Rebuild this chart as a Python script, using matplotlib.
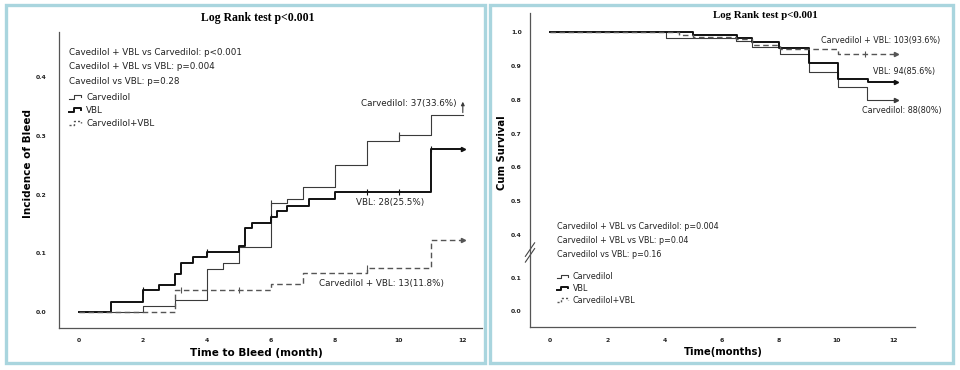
import numpy as np
import matplotlib
matplotlib.use("Agg")
import matplotlib.pyplot as plt
from matplotlib.lines import Line2D
from matplotlib.patches import Rectangle
from matplotlib.legend_handler import HandlerBase

# ---- left panel: incidence of bleed ----
bleed_carv_t = [0, 2, 3, 4, 4.5, 5, 6, 6.5, 7, 8, 9, 10, 11, 12]
bleed_carv_v = [0, 0.011, 0.020, 0.074, 0.084, 0.111, 0.186, 0.193, 0.213, 0.251, 0.291, 0.302, 0.335, 0.335]
bleed_vbl_t = [0, 1, 2, 2.5, 3, 3.2, 3.55, 4, 5, 5.2, 5.4, 6, 6.2, 6.5, 7.2, 8, 11, 12]
bleed_vbl_v = [0, 0.018, 0.038, 0.047, 0.065, 0.084, 0.094, 0.103, 0.113, 0.143, 0.152, 0.162, 0.172,
               0.181, 0.192, 0.204, 0.277, 0.277]
bleed_comb_t = [0, 3, 6, 7, 9, 11, 12]
bleed_comb_v = [0, 0.037, 0.048, 0.066, 0.076, 0.122, 0.122]
bleed_carv_cens = [6, 10]
bleed_vbl_cens = [2, 4, 6, 9, 10, 11]
bleed_comb_cens = [3.2, 5, 9]
bleed_pvals = ["Cavedilol + VBL vs Carvedilol: p<0.001",
               "Cavedilol + VBL vs VBL: p=0.004",
               "Cavedilol vs VBL: p=0.28"]

# ---- right panel: cumulative survival ----
surv_carv_t = [0, 4.05, 6.5, 7.05, 8.04, 9.07, 10.08, 11.07, 12.1]
surv_carv_v = [1, 0.982, 0.975, 0.957, 0.936, 0.883, 0.837, 0.800, 0.800]
surv_vbl_t = [0, 5.0, 6.55, 7.05, 8.0, 9.07, 10.08, 11.1, 12.1]
surv_vbl_v = [1, 0.991, 0.983, 0.971, 0.953, 0.910, 0.861, 0.852, 0.852]
surv_comb_t = [0, 4.5, 5.0, 6.5, 7.05, 8.04, 10.08, 12.1]
surv_comb_v = [1, 0.993, 0.987, 0.980, 0.962, 0.950, 0.936, 0.936]
surv_comb_cens = [11]
surv_pvals = ["Carvedilol + VBL vs Carvedilol: p=0.004",
              "Carvedilol + VBL vs VBL: p=0.04",
              "Carvedilol vs VBL: p=0.16"]

legend_labels = ["Carvedilol", "VBL", "Carvedilol+VBL"]
month_ticks = [0, 2, 4, 6, 8, 10, 12]
surv_ticks = [1.0, 0.9, 0.8, 0.7, 0.6, 0.5, 0.4, 0.1, 0.0]
axis_break = (0.1, 0.4)   # values skipped on the survival axis
break_gap = 0.126         # how much room the break takes on the axis

style_carv = dict(color="#3a3a3a", lw=0.8, ls="-")
style_vbl = dict(color="#111111", lw=1.4, ls="-")
style_comb = dict(color="#555555", lw=1.0, ls=(0, (4, 2.5)))


class StepHandler(HandlerBase):
    # little step symbol like the SPSS legend
    def create_artists(self, legend, orig, xd, yd, width, height, fontsize, trans):
        x0 = -xd
        y0 = -yd
        xs = [x0, x0 + width * 0.35, x0 + width * 0.35, x0 + width * 0.85, x0 + width * 0.85]
        ys = [y0 + height * 0.15, y0 + height * 0.15, y0 + height * 0.75, y0 + height * 0.75, y0 + height * 0.45]
        ln = Line2D(xs, ys, color=orig.get_color(), lw=orig.get_linewidth(),
                    linestyle="-" if orig.get_linestyle() == "-" else (0, (1.5, 1.5)))
        ln.set_transform(trans)
        return [ln]


def step_value(ts, vs, t):
    i = np.searchsorted(ts, t, side="right") - 1
    return vs[i]


def draw_curve(ax, ts, vs, style, cens=None):
    ts = np.array(ts)
    vs = np.array(vs)
    line, = ax.step(ts, vs, where="post", **style)
    if cens:
        cv = [step_value(ts, vs, c) for c in cens]
        ax.plot(cens, cv, ls="none", marker="|", ms=4, mew=0.8, color=style["color"])
    return line


def style_axes(ax):
    for s in ["top", "right"]:
        ax.spines[s].set_visible(False)
    for s in ["left", "bottom"]:
        ax.spines[s].set_color("#555555")
        ax.spines[s].set_linewidth(0.9)
    ax.tick_params(length=0, labelsize=4.4, colors="#222222")
    for lab in ax.get_xticklabels() + ax.get_yticklabels():
        lab.set_fontweight("bold")


fig = plt.figure(figsize=(9.6, 3.7), dpi=100)

# panel frames
border = "#a9d5de"
fig.patches.append(Rectangle((6 / 960, 7 / 370), 479 / 960, 358 / 370, transform=fig.transFigure,
                             fill=False, ec=border, lw=2.4))
fig.patches.append(Rectangle((490 / 960, 7 / 370), 463 / 960, 358 / 370, transform=fig.transFigure,
                             fill=False, ec=border, lw=2.4))

# ---------------- left ----------------
ax1 = fig.add_axes([59 / 960, 42 / 370, 423 / 960, 296 / 370])
l_carv = draw_curve(ax1, bleed_carv_t, bleed_carv_v, style_carv, bleed_carv_cens)
l_vbl = draw_curve(ax1, bleed_vbl_t, bleed_vbl_v, style_vbl, bleed_vbl_cens)
l_comb = draw_curve(ax1, bleed_comb_t, bleed_comb_v, style_comb, bleed_comb_cens)
# end arrows
ax1.annotate("", xy=(bleed_carv_t[-1], bleed_carv_v[-1] + 0.028), xytext=(bleed_carv_t[-1], bleed_carv_v[-1]),
             arrowprops=dict(arrowstyle="-|>", color="#3a3a3a", lw=0.8, mutation_scale=5))
ax1.plot(bleed_vbl_t[-1], bleed_vbl_v[-1], marker=">", ms=3, color="#111111")
ax1.plot(bleed_comb_t[-1], bleed_comb_v[-1], marker=">", ms=3, color="#555555")

ax1.set_xlim(-0.625, 12.6)
ax1.set_ylim(-0.027, 0.477)
ax1.set_xticks(month_ticks)
ax1.set_yticks([0.0, 0.1, 0.2, 0.3, 0.4])
ax1.set_yticklabels(["0.0", "0.1", "0.2", "0.3", "0.4"])
ax1.tick_params(axis="y", pad=9)
ax1.tick_params(axis="x", pad=7)
style_axes(ax1)

ax1.set_xlabel("Time to Bleed (month)", fontsize=7.5, fontweight="bold")
ax1.xaxis.set_label_coords(0.466, -0.085)
ax1.xaxis.label.set_va("center")
ax1.set_ylabel("Incidence of Bleed", fontsize=7.5, fontweight="bold")
ax1.yaxis.set_label_coords(-0.073, 0.557)
ax1.yaxis.label.set_va("center")

for i, txt in enumerate(bleed_pvals):
    ax1.text(0.024, 0.932 - i * 0.05, txt, transform=ax1.transAxes, fontsize=6.3, va="center", color="#222222")

leg1 = ax1.legend([l_carv, l_vbl, l_comb], legend_labels, handler_map={Line2D: StepHandler()},
                  loc="upper left", bbox_to_anchor=(0.024, 0.795), frameon=False, fontsize=6.3,
                  handlelength=1.6, handletextpad=0.35, labelspacing=0.45, borderpad=0, borderaxespad=0)
for t in leg1.get_texts():
    t.set_color("#222222")

ax1.text(11.81, 0.356, "Carvedilol: 37(33.6%)", fontsize=6.3, ha="right", va="center", color="#222222")
ax1.text(9.72, 0.186, "VBL: 28(25.5%)", fontsize=6.3, ha="center", va="center", color="#222222")
ax1.text(9.45, 0.048, "Carvedilol + VBL: 13(11.8%)", fontsize=6.3, ha="center", va="center", color="#222222")

fig.text(258 / 960, 1 - 18 / 370, "Log Rank test p<0.001", fontsize=8.5, fontweight="bold",
         family="Liberation Serif", ha="center", va="center")

# ---------------- right ----------------
shift = axis_break[1] - axis_break[0] - break_gap


def broken(v):
    v = np.asarray(v, dtype=float)
    return np.where(v <= axis_break[0], v + shift, v)


ax2 = fig.add_axes([530 / 960, 43 / 370, 385 / 960, 314 / 370])
r_carv = draw_curve(ax2, surv_carv_t, surv_carv_v, style_carv)
r_vbl = draw_curve(ax2, surv_vbl_t, surv_vbl_v, style_vbl)
r_comb = draw_curve(ax2, surv_comb_t, surv_comb_v, style_comb, surv_comb_cens)
ax2.plot(surv_carv_t[-1], surv_carv_v[-1], marker=">", ms=3, color="#3a3a3a")
ax2.plot(surv_vbl_t[-1], surv_vbl_v[-1], marker=">", ms=3, color="#111111")
ax2.plot(surv_comb_t[-1], surv_comb_v[-1], marker=">", ms=3, color="#555555")

ax2.set_xlim(-0.7, 12.76)
ax2.set_ylim(0.128, 1.057)
ax2.set_xticks(month_ticks)
ax2.set_yticks(broken(surv_ticks))
ax2.set_yticklabels(["%.1f" % v for v in surv_ticks])
ax2.tick_params(axis="y", pad=6)
ax2.tick_params(axis="x", pad=8)
style_axes(ax2)

# axis break marks
brk = (axis_break[1] + axis_break[0] + shift) / 2 + 0.02
for dy in [0.0, -0.017]:
    ax2.plot([-0.012, 0.012], [brk + dy - 0.02, brk + dy + 0.02], color="#444444", lw=0.8,
             transform=ax2.get_yaxis_transform(), clip_on=False)

ax2.set_xlabel("Time(months)", fontsize=7.2, fontweight="bold")
ax2.xaxis.set_label_coords(0.501, -0.08)
ax2.xaxis.label.set_va("center")
ax2.set_ylabel("Cum Survival", fontsize=7.2, fontweight="bold")
ax2.yaxis.set_label_coords(-0.072, 0.554)
ax2.yaxis.label.set_va("center")

for i, txt in enumerate(surv_pvals):
    ax2.text(0.07, 0.319 - i * 0.044, txt, transform=ax2.transAxes, fontsize=5.8, va="center", color="#222222")

leg2 = ax2.legend([r_carv, r_vbl, r_comb], legend_labels, handler_map={Line2D: StepHandler()},
                  loc="upper left", bbox_to_anchor=(0.07, 0.175), frameon=False, fontsize=5.8,
                  handlelength=1.6, handletextpad=0.35, labelspacing=0.35, borderpad=0, borderaxespad=0)
for t in leg2.get_texts():
    t.set_color("#222222")

ax2.text(13.64, 0.977, "Carvedilol + VBL: 103(93.6%)", fontsize=5.8, ha="right", va="center",
         color="#222222", clip_on=False)
ax2.text(13.46, 0.883, "VBL: 94(85.6%)", fontsize=5.8, ha="right", va="center", color="#222222", clip_on=False)
ax2.text(13.7, 0.77, "Carvedilol: 88(80%)", fontsize=5.8, ha="right", va="center", color="#222222", clip_on=False)

fig.text(765 / 960, 1 - 15 / 370, "Log Rank test p<0.001", fontsize=7.8, fontweight="bold",
         family="Liberation Serif", ha="center", va="center")

fig.savefig("out.png", dpi=100)
